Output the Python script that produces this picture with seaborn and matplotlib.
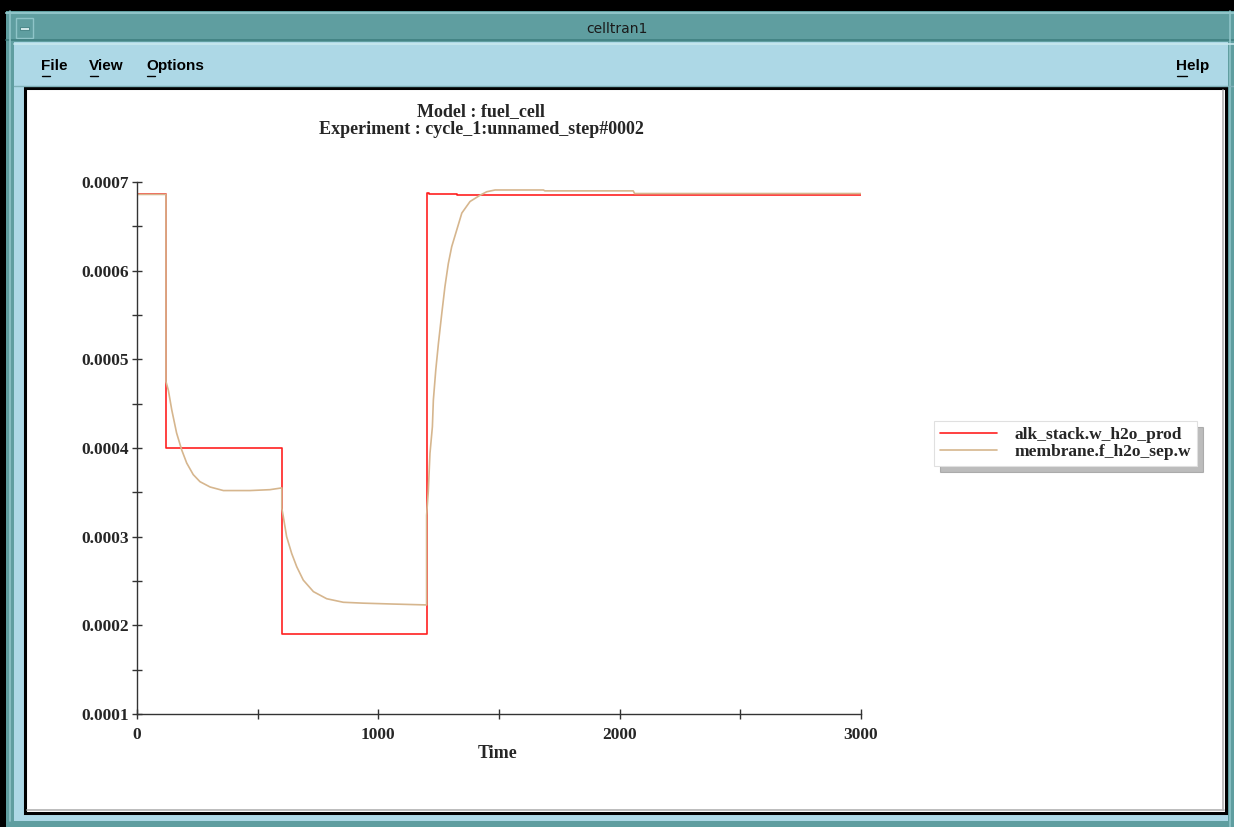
import matplotlib
matplotlib.use("Agg")
import matplotlib.pyplot as plt
import seaborn as sns
from matplotlib.patches import Rectangle
from matplotlib.lines import Line2D
from matplotlib.ticker import MultipleLocator, FormatStrFormatter

# ---------------- data ----------------
series_names = ["alk_stack.w_h2o_prod", "membrane.f_h2o_sep.w"]

time_red = [0, 120, 120, 600, 600, 1200, 1200, 1210, 1210, 1326, 1326, 3000]
value_red = [0.000686, 0.000686, 0.000400, 0.000400, 0.000190, 0.000190,
             0.000688, 0.000688, 0.000686, 0.000686, 0.000685, 0.000685]

time_tan = [0, 120, 120, 130, 144, 164, 185, 206, 233, 261, 303, 358, 468, 551,
            600, 600, 606, 620, 641, 662, 689, 731, 786, 855, 938, 1062,
            1200, 1200, 1207, 1214, 1224, 1228, 1238, 1249, 1263, 1276, 1290,
            1304, 1325, 1346, 1380, 1421, 1449, 1484, 1684, 1690, 2056, 2062, 3000]
value_tan = [0.000686, 0.000686, 0.000475, 0.000465, 0.000443, 0.000417, 0.000398,
             0.000383, 0.000370, 0.000362, 0.000356, 0.000352, 0.000352, 0.000353,
             0.000355, 0.000332, 0.000323, 0.000300, 0.000281, 0.000266, 0.000251,
             0.000238, 0.000230, 0.000226, 0.000225, 0.000224,
             0.000223, 0.000324, 0.000351, 0.000394, 0.000424, 0.000454, 0.000488,
             0.000518, 0.000552, 0.000582, 0.000608, 0.000627, 0.000646, 0.000665,
             0.000678, 0.000685, 0.000689, 0.000691, 0.000691, 0.000690, 0.000690,
             0.000687, 0.000687]

title_lines = ["Model : fuel_cell", "Experiment : cycle_1:unnamed_step#0002"]
window_title = "celltran1"
menu_left = ["File", "View", "Options"]
menu_right = "Help"
x_label = "Time"

# ---------------- figure ----------------
W, H = 1234, 827
sns.set_style("white")
plt.rcParams["font.family"] = ["Liberation Serif", "DejaVu Serif"]

fig = plt.figure(figsize=(W / 100, H / 100), dpi=100)
TEAL = "#5f9ea0"
LIGHT = "#add8e6"
fig.patch.set_facecolor(TEAL)


def fx(x):
    return x / W


def fy(y):
    return 1 - y / H


def rect(x0, y0, x1, y1, fc, ec="none", lw=0, z=-10):
    r = Rectangle((fx(x0), fy(y1)), (x1 - x0) / W, (y1 - y0) / H,
                  transform=fig.transFigure, facecolor=fc, edgecolor=ec,
                  linewidth=lw, zorder=z)
    fig.add_artist(r)
    return r


def hline(x0, x1, y, color, lw=1.0, z=-5):
    fig.add_artist(Line2D([fx(x0), fx(x1)], [fy(y), fy(y)], transform=fig.transFigure,
                          color=color, linewidth=lw, zorder=z))


def vline(x, y0, y1, color, lw=1.0, z=-5):
    fig.add_artist(Line2D([fx(x), fx(x)], [fy(y0), fy(y1)], transform=fig.transFigure,
                          color=color, linewidth=lw, zorder=z))


# window decorations
rect(0, 0, W, 11, "black", z=-9)
rect(0, 0, 6, H, "black", z=-9)
rect(14, 42, 1228, 821, LIGHT, z=-9)
hline(6, W, 13, "#8fc4c8", lw=1.5)
hline(6, W, 40, "#3f7f80", lw=1.2)
vline(10, 11, 821, "#8fc4c8", lw=1.2)
vline(1230, 11, 827, "#8fc4c8", lw=1.2)
hline(14, W, 44, "#c8e8ee", lw=1.2)
hline(14, W, 86, "#7fb0b8", lw=1.0)
# window button
rect(16, 18, 33, 38, TEAL, ec="#8fc4c8", lw=1.0, z=-8)
rect(20, 27, 29, 30, "#cfe6e8", ec="#3f7f80", lw=0.6, z=-7)
fig.text(fx(617), fy(29), window_title, ha="center", va="center",
         fontsize=10, family="DejaVu Sans", color="#1a1a1a")

# menu
menu_x = [41, 89, 146]
for label, x in zip(menu_left, menu_x):
    fig.text(fx(x), fy(66), label, ha="left", va="center", fontsize=11,
             family="Liberation Sans", weight="bold", color="black")
    hline(x + 1, x + 9, 76, "black", lw=1.0, z=5)
fig.text(fx(1176), fy(66), menu_right, ha="left", va="center", fontsize=11,
         family="Liberation Sans", weight="bold", color="black")
hline(1177, 1187, 76, "black", lw=1.0, z=5)

# plot frame
rect(25, 88, 1226, 813, "white", ec="black", lw=2.2, z=-6)
hline(27, 1224, 810, "#b0b0b0", lw=1.2)
vline(1223, 90, 810, "#b0b0b0", lw=1.2)

# ---------------- axes ----------------
ax = fig.add_axes([fx(137), fy(714), (861 - 137) / W, (714 - 182) / H])
ax.set_facecolor("white")

sns.lineplot(x=time_red, y=value_red, ax=ax, color="#ff2020", linewidth=1.2,
             estimator=None, sort=False, label=series_names[0])
sns.lineplot(x=time_tan, y=value_tan, ax=ax, color="#d6b68e", linewidth=1.2,
             estimator=None, sort=False, label=series_names[1])

ax.set_xlim(0, 3000)
ax.set_ylim(0.0001, 0.0007)
ax.xaxis.set_major_locator(MultipleLocator(1000))
ax.xaxis.set_minor_locator(MultipleLocator(500))
ax.yaxis.set_major_locator(MultipleLocator(0.0001))
ax.yaxis.set_minor_locator(MultipleLocator(0.00005))
ax.yaxis.set_major_formatter(FormatStrFormatter("%.4f"))

for s in ["top", "right"]:
    ax.spines[s].set_visible(False)
for s in ["left", "bottom"]:
    ax.spines[s].set_color("#333333")
    ax.spines[s].set_linewidth(1.0)

ax.tick_params(axis="both", which="both", direction="inout", color="#333333",
               width=1.0, bottom=True, left=True, top=False, right=False,
               length=7)
ax.tick_params(axis="x", which="major", pad=6, labelsize=12.5)
ax.tick_params(axis="y", which="major", pad=2, labelsize=12.5)
for lab in ax.get_xticklabels() + ax.get_yticklabels():
    lab.set_fontweight("bold")

ax.set_xlabel("")
ax.set_ylabel("")
fig.text(fx(498), fy(754), x_label, ha="center", va="center", fontsize=13,
         weight="bold")

fig.text(fx(481), fy(112), title_lines[0], ha="center", va="center", fontsize=13,
         weight="bold")
fig.text(fx(481), fy(129), title_lines[1], ha="center", va="center", fontsize=13,
         weight="bold")

leg = ax.legend(loc="upper left", bbox_to_anchor=(fx(934), fy(421)),
                bbox_transform=fig.transFigure, frameon=True, fancybox=False,
                shadow={"ox": 4, "oy": -4, "color": "#7a7a7a"},
                prop={"family": "Liberation Serif", "weight": "bold", "size": 12.5},
                handlelength=3.3, handletextpad=1.0, labelspacing=0.05,
                borderpad=0.35, borderaxespad=0)
leg.get_frame().set_edgecolor("#e0e0e0")
leg.get_frame().set_linewidth(0.8)
leg.get_frame().set_facecolor("white")
leg.get_frame().set_alpha(1)

fig.savefig("out.png", dpi=100, facecolor=fig.get_facecolor())
